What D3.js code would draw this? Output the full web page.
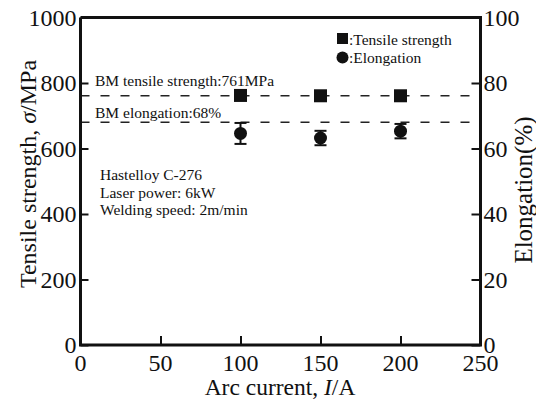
<!DOCTYPE html>
<head>
  <meta charset="utf-8" />
  <script src="https://cdn.jsdelivr.net/npm/d3@7"></script>
  <style>
    body {
      margin: 0;
      background: #fff;
    }
    text {
      font-family: "Liberation Serif", "Times New Roman", serif;
      fill: #111;
    }
  </style>
</head>

<body>
  <script>
    // values
    var current = [100, 150, 200];
    var tensile = [762, 761, 761];
    var elongation = [64.6, 63.2, 65.3];
    var elongErr = [3.2, 2.2, 2.2];
    var bmTensile = 761;
    var bmElong = 68;
    var xTicks = [0, 50, 100, 150, 200, 250];
    var yTicks = [0, 200, 400, 600, 800, 1000];
    var y2Ticks = [0, 20, 40, 60, 80, 100];
    var notes = ["Hastelloy C-276", "Laser power: 6kW", "Welding speed: 2m/min"];

    var width = 536,
      height = 403;
    // plot box (window.top is reserved, so use a small object)
    var box = { l: 80.5, r: 480.5, t: 17.5, b: 345 };

    var svg = d3
      .select("body")
      .append("svg")
      .attr("width", width)
      .attr("height", height);

    var x = d3.scaleLinear().domain([0, 250]).range([box.l, box.r]);
    var y = d3.scaleLinear().domain([0, 1000]).range([box.b, box.t]);
    var y2 = d3.scaleLinear().domain([0, 100]).range([box.b, box.t]);

    // dashed base-metal reference lines
    svg
      .selectAll("line.ref")
      .data([y(bmTensile), y2(bmElong)])
      .enter()
      .append("line")
      .attr("x1", box.l)
      .attr("x2", box.r)
      .attr("y1", d => d)
      .attr("y2", d => d)
      .attr("stroke", "#222")
      .attr("stroke-width", 1.6)
      .attr("stroke-dasharray", "9,11");

    // axes (ticks point inward)
    var xAxis = svg
      .append("g")
      .attr("transform", "translate(0," + box.b + ")")
      .call(d3.axisTop(x).tickValues(xTicks).tickSize(9).tickFormat(""));
    var yAxis = svg
      .append("g")
      .attr("transform", "translate(" + box.l + ",0)")
      .call(d3.axisRight(y).tickValues(yTicks).tickSize(8).tickFormat(""));
    var y2Axis = svg
      .append("g")
      .attr("transform", "translate(" + box.r + ",0)")
      .call(d3.axisLeft(y2).tickValues(y2Ticks).tickSize(9).tickFormat(""));

    [xAxis, yAxis, y2Axis].forEach(g => {
      g.select(".domain").remove();
      g.selectAll(".tick line").attr("stroke", "#111").attr("stroke-width", 2);
    });

    // frame: left, bottom, right and top lines
    svg
      .append("path")
      .attr("d", "M" + box.l + "," + box.t + "V" + box.b + "H" + box.r + "V" + box.t + "H" + box.l)
      .attr("fill", "none")
      .attr("stroke", "#111")
      .attr("stroke-width", 3);

    // tick labels
    svg
      .selectAll("text.xt")
      .data(xTicks)
      .enter()
      .append("text")
      .attr("x", d => x(d))
      .attr("y", box.b + 26)
      .attr("text-anchor", "middle")
      .style("font-size", "24px")
      .text(d => d);

    svg
      .selectAll("text.yt")
      .data(yTicks)
      .enter()
      .append("text")
      .attr("x", box.l - 4)
      .attr("y", d => y(d) + 8)
      .attr("text-anchor", "end")
      .style("font-size", "24px")
      .text(d => d);

    svg
      .selectAll("text.y2t")
      .data(y2Ticks)
      .enter()
      .append("text")
      .attr("x", box.r + 3)
      .attr("y", d => y2(d) + 8)
      .attr("text-anchor", "start")
      .style("font-size", "24px")
      .text(d => d);

    // axis titles
    var xt = svg
      .append("text")
      .attr("x", 280)
      .attr("y", 395)
      .attr("text-anchor", "middle")
      .style("font-size", "23.5px");
    xt.append("tspan").text("Arc current, ");
    xt.append("tspan").style("font-style", "italic").text("I");
    xt.append("tspan").text("/A");

    var yt = svg
      .append("text")
      .attr("transform", "translate(36,174) rotate(-90)")
      .attr("text-anchor", "middle")
      .style("font-size", "24px");
    yt.append("tspan").text("Tensile strength, ");
    yt.append("tspan").style("font-style", "italic").text("σ");
    yt.append("tspan").text("/MPa");

    svg
      .append("text")
      .attr("transform", "translate(532,190) rotate(-90)")
      .attr("text-anchor", "middle")
      .style("font-size", "25px")
      .text("Elongation(%)");

    // annotations
    svg
      .append("text")
      .attr("x", 95)
      .attr("y", 86)
      .style("font-size", "15.5px")
      .text("BM tensile strength:" + bmTensile + "MPa");
    svg
      .append("text")
      .attr("x", 95)
      .attr("y", 118)
      .style("font-size", "15.5px")
      .text("BM elongation:" + bmElong + "%");

    svg
      .selectAll("text.note")
      .data(notes)
      .enter()
      .append("text")
      .attr("x", 100)
      .attr("y", (d, i) => 180 + i * 17.5)
      .style("font-size", "15.5px")
      .text(d => d);

    // elongation error bars + circles
    var eg = svg.append("g");
    current.forEach((c, i) => {
      var lo = y2(elongation[i] - elongErr[i]),
        hi = y2(elongation[i] + elongErr[i]);
      eg.append("line")
        .attr("x1", x(c)).attr("x2", x(c))
        .attr("y1", lo).attr("y2", hi)
        .attr("stroke", "#111").attr("stroke-width", 2);
      [lo, hi].forEach(v => {
        eg.append("line")
          .attr("x1", x(c) - 6).attr("x2", x(c) + 6)
          .attr("y1", v).attr("y2", v)
          .attr("stroke", "#111").attr("stroke-width", 2);
      });
    });
    eg.selectAll("circle")
      .data(current)
      .enter()
      .append("circle")
      .attr("cx", d => x(d))
      .attr("cy", (d, i) => y2(elongation[i]))
      .attr("r", 6.5)
      .attr("fill", "#111");

    // tensile squares
    svg
      .selectAll("rect.ts")
      .data(current)
      .enter()
      .append("rect")
      .attr("x", d => x(d) - 6.5)
      .attr("y", (d, i) => y(tensile[i]) - 6.5)
      .attr("width", 13)
      .attr("height", 13)
      .attr("fill", "#111");

    // legend
    var lg = svg.append("g");
    lg.append("rect")
      .attr("x", 337).attr("y", 33)
      .attr("width", 11).attr("height", 11)
      .attr("fill", "#111");
    lg.append("circle")
      .attr("cx", 342.5).attr("cy", 57.5).attr("r", 6)
      .attr("fill", "#111");
    lg.append("text")
      .attr("x", 349).attr("y", 45)
      .style("font-size", "15.5px")
      .text(":Tensile strength");
    lg.append("text")
      .attr("x", 349).attr("y", 63)
      .style("font-size", "15.5px")
      .text(":Elongation");
  </script>
</body>
